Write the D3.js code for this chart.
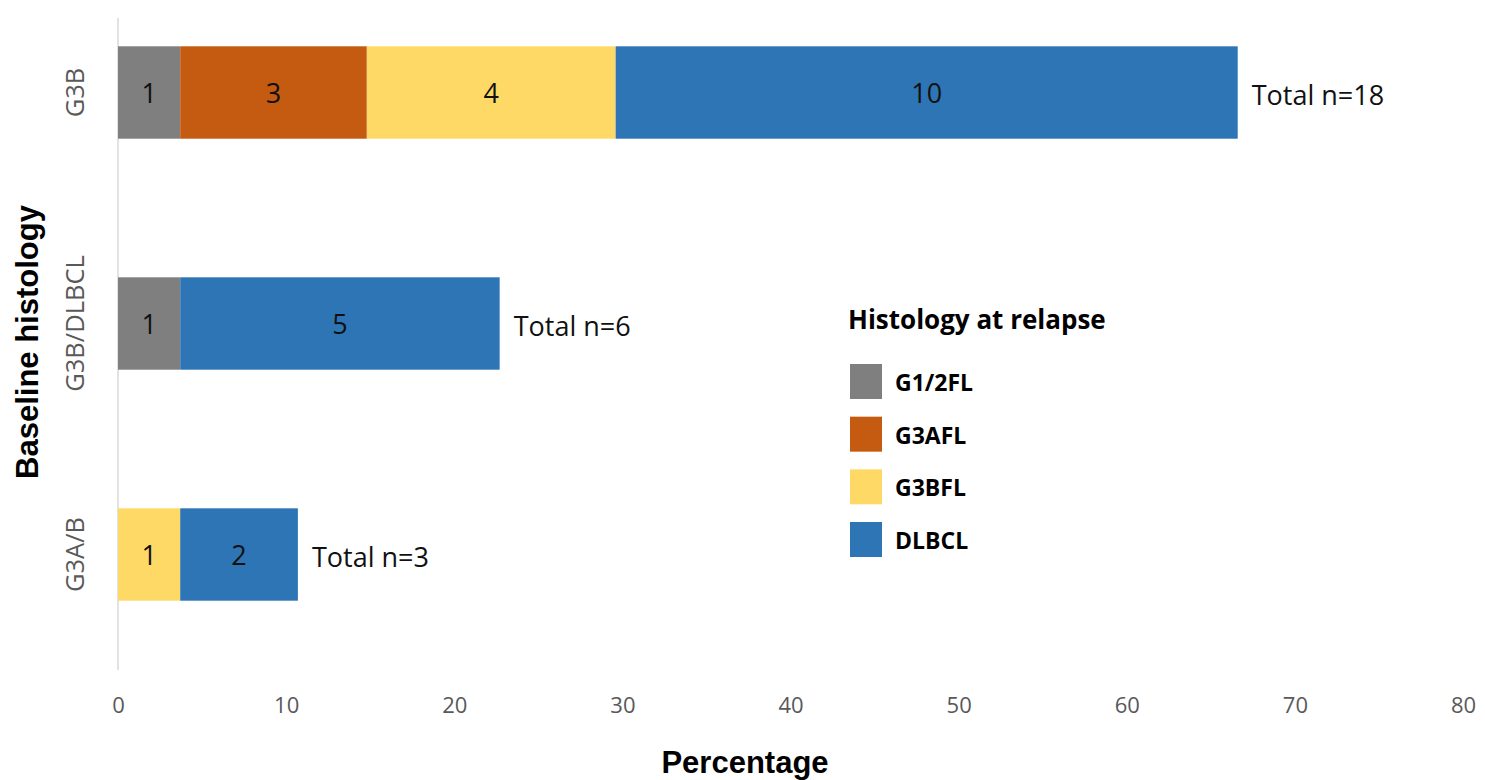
<!DOCTYPE html>
<html>
<head>
<meta charset="utf-8">
<script src="https://cdn.jsdelivr.net/npm/d3@7"></script>
<style>
  html, body { margin: 0; padding: 0; background: #fff; }
  svg { display: block; }
</style>
</head>
<body>
<svg id="chart" width="1485" height="780"></svg>
<script>
// Baseline histology groups (top to bottom)
const categories = ["G3B", "G3B/DLBCL", "G3A/B"];
// Histology at relapse (stack order, left to right)
const seriesNames = ["G1/2FL", "G3AFL", "G3BFL", "DLBCL"];
const seriesColors = ["#7f7f7f", "#c55a11", "#ffd966", "#2e75b6"];
// Percentage of patients per segment, by category
const pctG1_2FL = [3.7, 3.7, 0];
const pctG3AFL  = [11.1, 0, 0];
const pctG3BFL  = [14.8, 0, 3.7];
const pctDLBCL  = [37.0, 19.0, 7.0];
// Patient counts shown inside each segment
const nG1_2FL = [1, 1, 0];
const nG3AFL  = [3, 0, 0];
const nG3BFL  = [4, 0, 1];
const nDLBCL  = [10, 5, 2];
const totals = [18, 6, 3];
const xTicks = [0, 10, 20, 30, 40, 50, 60, 70, 80];

const pctSeries = [pctG1_2FL, pctG3AFL, pctG3BFL, pctDLBCL];
const nSeries = [nG1_2FL, nG3AFL, nG3BFL, nDLBCL];

const rows = categories.map((c, i) => {
  const r = { category: c, total: totals[i] };
  seriesNames.forEach((s, j) => { r[s] = pctSeries[j][i]; r["n_" + s] = nSeries[j][i]; });
  return r;
});

const svg = d3.select("#chart");
const x = d3.scaleLinear().domain([0, 80]).range([118, 1463]);
const y = d3.scaleBand().domain(categories).range([-23, 670]).paddingInner(0.6).paddingOuter(0.3);

const stack = d3.stack().keys(seriesNames);
const layers = stack(rows);

const bodyFont = "'Open Sans', sans-serif";

// Category axis line
svg.append("line")
  .attr("x1", x(0)).attr("x2", x(0))
  .attr("y1", 18).attr("y2", 670)
  .attr("stroke", "#d9d9d9").attr("stroke-width", 1.5);

// Stacked bars
const layerG = svg.append("g").selectAll("g")
  .data(layers).join("g")
  .attr("fill", (d, i) => seriesColors[i]);

layerG.selectAll("rect")
  .data(d => d.filter(p => p[1] - p[0] > 0))
  .join("rect")
  .attr("x", p => x(p[0]))
  .attr("y", p => y(p.data.category))
  .attr("width", p => x(p[1]) - x(p[0]))
  .attr("height", y.bandwidth());

// Counts inside segments
layers.forEach(layer => {
  svg.append("g").selectAll("text")
    .data(layer.filter(p => p[1] - p[0] > 0))
    .join("text")
    .attr("x", p => (x(p[0]) + x(p[1])) / 2)
    .attr("y", p => y(p.data.category) + y.bandwidth() / 2)
    .attr("text-anchor", "middle")
    .attr("dominant-baseline", "central")
    .attr("font-family", bodyFont)
    .attr("font-size", 27)
    .attr("fill", "#111")
    .text(p => p.data["n_" + layer.key]);
});

// Totals at bar ends
const lastLayer = layers[layers.length - 1];
svg.append("g").selectAll("text")
  .data(lastLayer)
  .join("text")
  .attr("x", p => x(p[1]) + 14)
  .attr("y", p => y(p.data.category) + y.bandwidth() / 2 + 2)
  .attr("dominant-baseline", "central")
  .attr("font-family", bodyFont)
  .attr("font-size", 27)
  .attr("fill", "#111")
  .text(p => "Total n=" + p.data.total);

// X axis tick labels
const xAxis = d3.axisBottom(x).tickValues(xTicks).tickSize(0).tickPadding(0);
const xg = svg.append("g").attr("transform", "translate(0,697)").call(xAxis);
xg.select(".domain").remove();
xg.selectAll("text")
  .attr("font-family", bodyFont)
  .attr("font-size", 22)
  .attr("fill", "#595959");

// Y axis category labels (rotated)
const yAxis = d3.axisLeft(y).tickSize(0).tickPadding(0);
const yg = svg.append("g").attr("transform", "translate(84,0)").call(yAxis);
yg.select(".domain").remove();
yg.selectAll("text")
  .attr("font-family", bodyFont)
  .attr("font-size", 25.5)
  .attr("fill", "#595959")
  .attr("text-anchor", "middle")
  .attr("x", 0)
  .attr("y", 0)
  .attr("dy", "0")
  .attr("transform", "rotate(-90)");

// Axis titles
svg.append("text")
  .attr("x", 745).attr("y", 773)
  .attr("text-anchor", "middle")
  .attr("font-family", "'Liberation Sans', Arial, sans-serif")
  .attr("font-weight", "bold")
  .attr("font-size", 31)
  .attr("fill", "#000")
  .text("Percentage");

svg.append("text")
  .attr("transform", "translate(38,342) rotate(-90)")
  .attr("text-anchor", "middle")
  .attr("font-family", "'Liberation Sans', Arial, sans-serif")
  .attr("font-weight", "bold")
  .attr("font-size", 31)
  .attr("fill", "#000")
  .text("Baseline histology");

// Legend
const legend = svg.append("g");
legend.append("text")
  .attr("x", 848).attr("y", 329)
  .attr("font-family", bodyFont)
  .attr("font-weight", "bold")
  .attr("font-size", 26)
  .attr("fill", "#000")
  .text("Histology at relapse");

const legendY = d3.scalePoint().domain(seriesNames).range([364, 522]);
const li = legend.selectAll("g.item").data(seriesNames).join("g").attr("class", "item");
li.append("rect")
  .attr("x", 850).attr("y", d => legendY(d))
  .attr("width", 32).attr("height", 35)
  .attr("fill", (d, i) => seriesColors[i]);
li.append("text")
  .attr("x", 895).attr("y", d => legendY(d) + 18)
  .attr("dominant-baseline", "central")
  .attr("font-family", bodyFont)
  .attr("font-weight", "bold")
  .attr("font-size", 23)
  .attr("fill", "#000")
  .text(d => d);
</script>
</body>
</html>
